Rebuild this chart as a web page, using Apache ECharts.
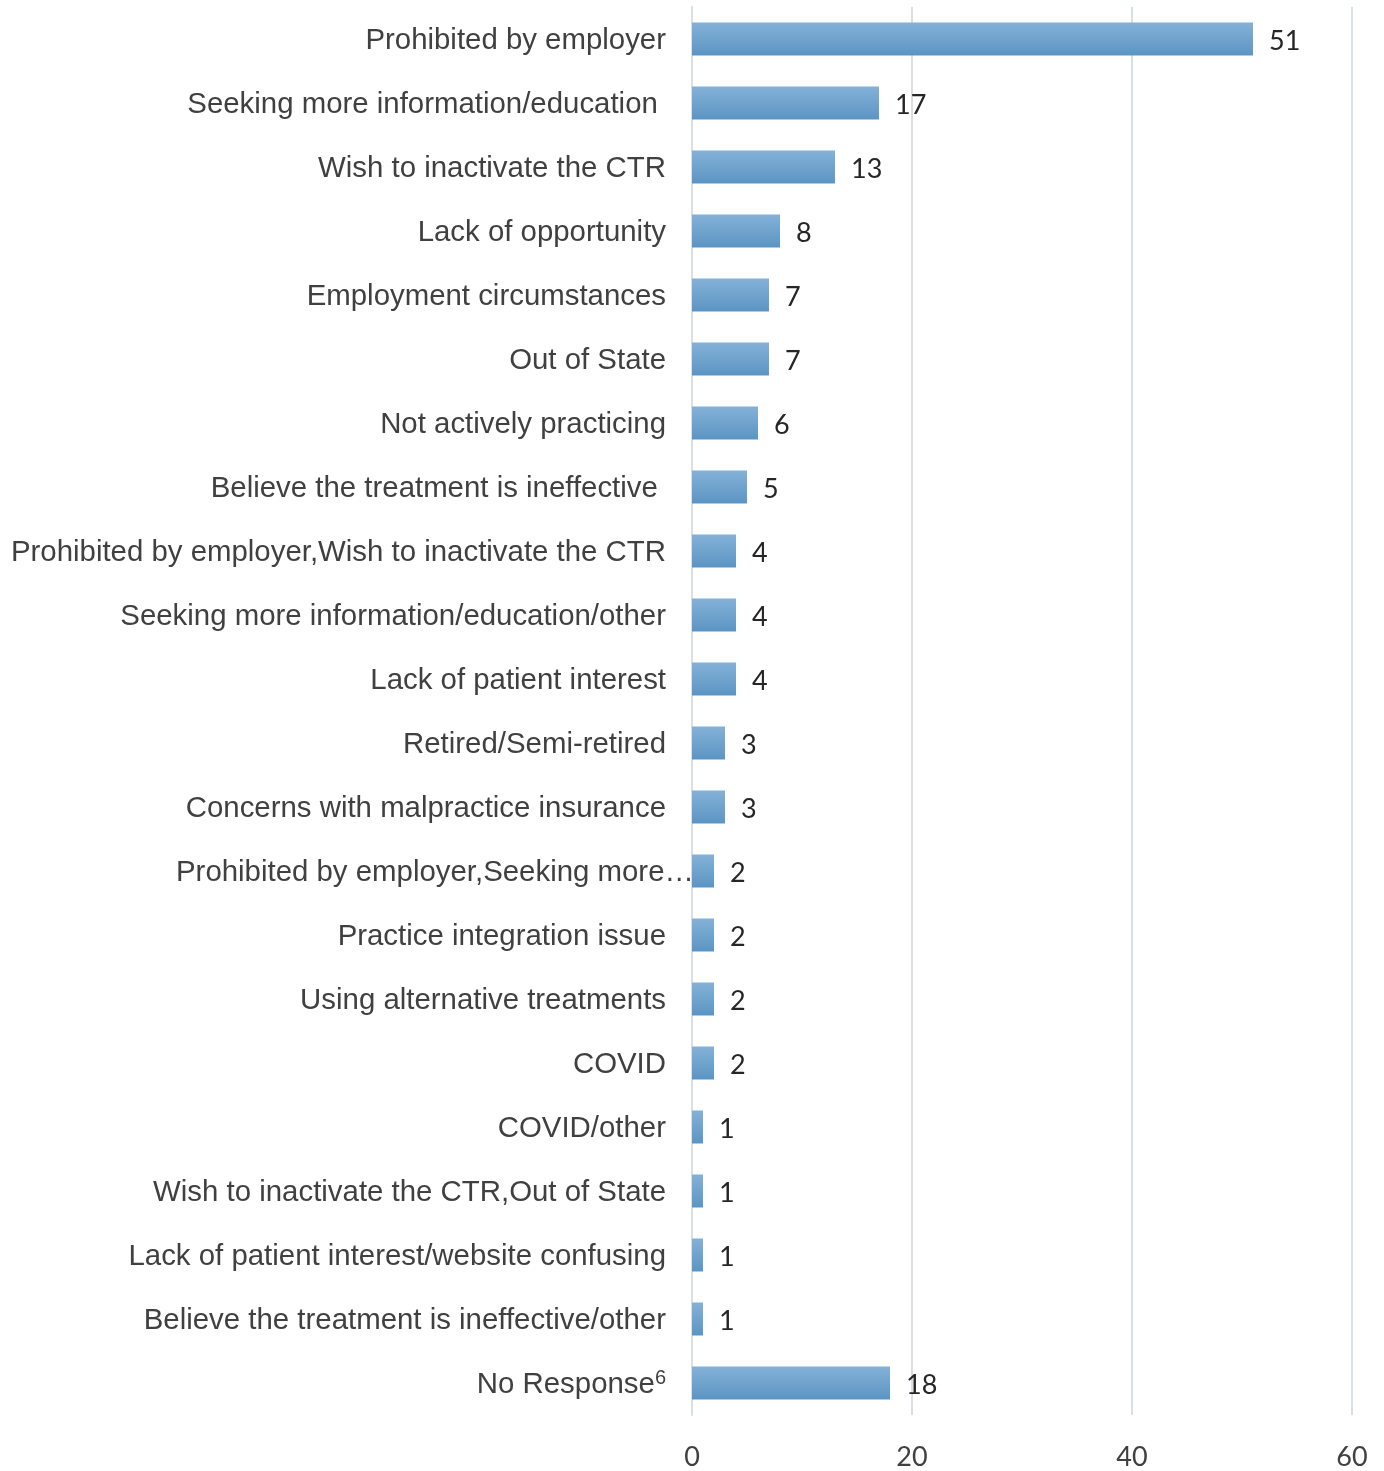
<!DOCTYPE html>
<html><head><meta charset="utf-8">
<script src="https://cdn.jsdelivr.net/npm/echarts@6/dist/echarts.min.js"></script>
<style>html,body{margin:0;padding:0;background:#fff}#c{width:1384px;height:1471px}</style>
</head><body><div id="c"></div>
<script>
const categories = [
  "Prohibited by employer",
  "Seeking more information/education ",
  "Wish to inactivate the CTR",
  "Lack of opportunity",
  "Employment circumstances",
  "Out of State",
  "Not actively practicing",
  "Believe the treatment is ineffective ",
  "Prohibited by employer,Wish to inactivate the CTR",
  "Seeking more information/education/other",
  "Lack of patient interest",
  "Retired/Semi-retired",
  "Concerns with malpractice insurance",
  "Prohibited by employer,Seeking more…",
  "Practice integration issue",
  "Using alternative treatments",
  "COVID",
  "COVID/other",
  "Wish to inactivate the CTR,Out of State",
  "Lack of patient interest/website confusing",
  "Believe the treatment is ineffective/other",
  "No Response"
];
const values = [51, 17, 13, 8, 7, 7, 6, 5, 4, 4, 4, 3, 3, 2, 2, 2, 2, 1, 1, 1, 1, 18];
const xTicks = [0, 20, 40, 60];

const chart = echarts.init(document.getElementById('c'));
chart.setOption({
  animation: false,
  grid: { left: 692, right: 32, top: 7, bottom: 55, containLabel: false },
  xAxis: {
    type: 'value', min: xTicks[0], max: xTicks[xTicks.length - 1], interval: 20,
    axisLine: { show: false }, axisTick: { show: false },
    splitLine: { lineStyle: { color: '#d9dee7', width: 2 } },
    axisLabel: { fontFamily: 'Lato', fontSize: 27, color: '#404040', margin: 29 }
  },
  yAxis: {
    type: 'category', data: categories, inverse: true,
    axisLine: { show: true, lineStyle: { color: '#d9dee7', width: 2 } },
    axisTick: { show: false },
    axisLabel: {
      fontFamily: 'Liberation Sans', fontSize: 29.4, color: '#404040', margin: 26,
      padding: [3, 0, 0, 0],
      formatter: function (v) {
        if (v === 'No Response') return v + '{sup|6}';
        if (v.indexOf('…') >= 0) return '{ov|' + v + '}';
        return v;
      },
      rich: {
        sup: { fontFamily: 'Liberation Sans', fontSize: 20, color: '#404040', verticalAlign: 'top', padding: [0, 0, 12, 0] },
        ov: { fontFamily: 'Liberation Sans', fontSize: 29.4, color: '#404040', width: 490, align: 'left', overflow: 'none' }
      }
    }
  },
  series: [{
    type: 'bar', data: values, barWidth: 33,
    itemStyle: {
      color: new echarts.graphic.LinearGradient(0, 0, 0, 1, [
        { offset: 0, color: '#84b1d7' },
        { offset: 1, color: '#5b95c3' }
      ])
    },
    label: { show: true, position: 'right', distance: 16, offset: [0, 2], fontFamily: 'Lato', fontSize: 27, color: '#262626' }
  }]
});
</script></body></html>
